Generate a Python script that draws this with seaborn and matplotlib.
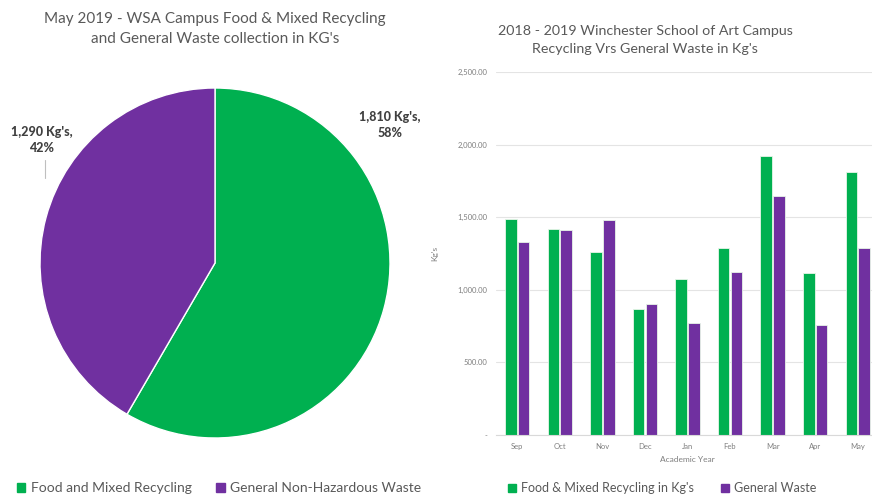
import pandas as pd
import matplotlib.pyplot as plt
import seaborn as sns

# Pie data (May 2019)
pie_labels = ["Food and Mixed Recycling", "General Non-Hazardous Waste"]
pie_values = [1810, 1290]

# Bar data (2018 - 2019 academic year)
months = ["Sep", "Oct", "Nov", "Dec", "Jan", "Feb", "Mar", "Apr", "May"]
recycling = [1490, 1420, 1260, 870, 1075, 1290, 1920, 1115, 1810]
general = [1330, 1410, 1480, 905, 770, 1120, 1645, 760, 1290]
series_names = ["Food & Mixed Recycling in Kg's", "General Waste"]

green = "#00B050"
purple = "#7030A0"
grey = "#595959"

sns.set_style("white")
plt.rcParams['font.family'] = ['Lato', 'DejaVu Sans']

W, H = 872, 495
fig = plt.figure(figsize=(W / 100, H / 100), dpi=100)

# ---- pie chart ----
ax1 = fig.add_axes([40 / W, (H - 438) / H, 350 / W, 350 / H])
ax1.pie(pie_values, colors=[green, purple], startangle=90, counterclock=False,
        wedgeprops=dict(edgecolor="white", linewidth=1))
ax1.set_xlim(-1, 1)
ax1.set_ylim(-1, 1)
total = sum(pie_values)
label_pos = [(390, 125), (42, 140)]
for v, (px, py) in zip(pie_values, label_pos):
    fig.text(px / W, 1 - py / H, f"{v:,} Kg's,\n{round(v / total * 100)}%",
             ha="center", va="center", fontsize=9, fontweight="black",
             color="#404040", linespacing=1.4)
fig.add_artist(plt.Line2D([45 / W, 45 / W], [1 - 160 / H, 1 - 178 / H],
                          color="#bfbfbf", lw=0.8))
fig.text(215 / W, 1 - 29 / H,
         "May 2019 - WSA Campus Food & Mixed Recycling\nand General Waste collection in KG's",
         ha="center", va="center", fontsize=11, color=grey, linespacing=1.6)
handles = [plt.Rectangle((0, 0), 1, 1, color=c) for c in [green, purple]]
fig.legend(handles, pie_labels, loc="center", bbox_to_anchor=(219 / W, 1 - 488 / H),
           ncol=2, frameon=False, fontsize=10, labelcolor=grey,
           handlelength=0.6, handleheight=0.6, handletextpad=0.4, columnspacing=1.8)

# ---- bar chart ----
df = pd.DataFrame({
    "Month": months * 2,
    "Kg": recycling + general,
    "Series": [series_names[0]] * len(months) + [series_names[1]] * len(months),
})
ax2 = fig.add_axes([496 / W, (H - 435) / H, 383 / W, (435 - 72) / H])
sns.barplot(data=df, x="Month", y="Kg", hue="Series", palette=[green, purple],
            saturation=1, width=0.6, gap=0.1, edgecolor="#e8f5e8", linewidth=0.6,
            ax=ax2, legend=False)
ax2.set_ylim(0, 2500)
ax2.set_xlim(-0.5, len(months) - 0.5)
yticks = [0, 500, 1000, 1500, 2000, 2500]
ax2.set_yticks(yticks)
ax2.set_yticklabels(["-" if t == 0 else f"{t:,.2f}" for t in yticks])
ax2.yaxis.grid(True, color="#e4e4e4", lw=0.8)
ax2.set_axisbelow(True)
ax2.tick_params(axis="both", labelsize=5.5, colors="#7f7f7f", length=0, pad=6)
ax2.set_xlabel("Academic Year", fontsize=6, color="#7f7f7f", labelpad=4)
ax2.set_ylabel("Kg's", fontsize=6, color="#7f7f7f", labelpad=14)
sns.despine(ax=ax2, left=True, bottom=False)
ax2.spines["bottom"].set_color("#d9d9d9")
fig.text(645 / W, 1 - 40 / H,
         "2018 - 2019 Winchester School of Art Campus\nRecycling Vrs General Waste in Kg's",
         ha="center", va="center", fontsize=10.3, color=grey, linespacing=1.6)
fig.legend(handles, series_names, loc="center", bbox_to_anchor=(662 / W, 1 - 488 / H),
           ncol=2, frameon=False, fontsize=9, labelcolor=grey,
           handlelength=0.6, handleheight=0.6, handletextpad=0.4, columnspacing=2.2)

fig.savefig("out.png", dpi=100)
